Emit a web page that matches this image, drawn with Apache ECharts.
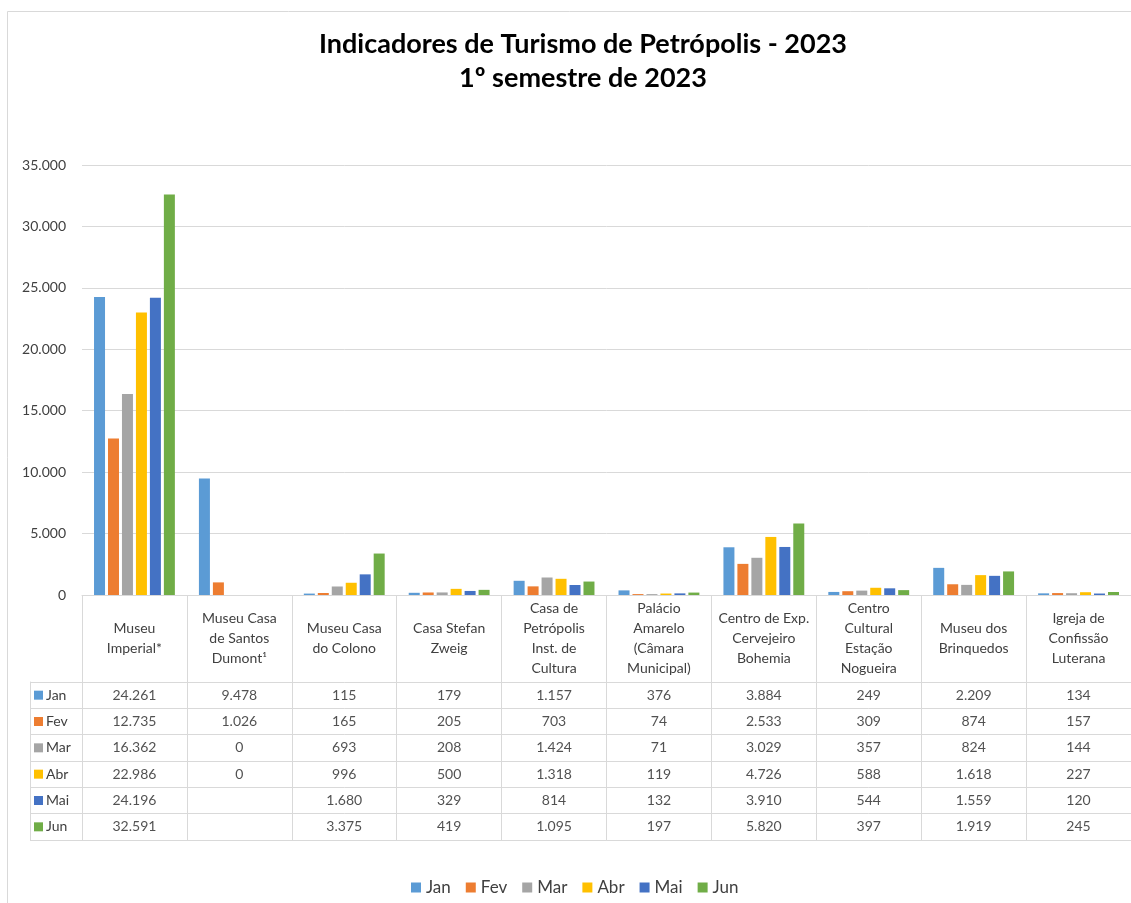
<!DOCTYPE html>
<html><head><meta charset="utf-8">
<script src="https://cdn.jsdelivr.net/npm/echarts@6/dist/echarts.min.js"></script>
<style>html,body{margin:0;padding:0;background:#fff}#c{width:1131px;height:903px}</style>
</head><body><div id="c"></div>
<script>
const categories = ['Museu\nImperial*', 'Museu Casa\nde Santos\nDumont¹', 'Museu Casa\ndo Colono', 'Casa Stefan\nZweig', 'Casa de\nPetrópolis\nInst. de\nCultura', 'Palácio\nAmarelo\n(Câmara\nMunicipal)', 'Centro de Exp.\nCervejeiro\nBohemia', 'Centro\nCultural\nEstação\nNogueira', 'Museu dos\nBrinquedos', 'Igreja de\nConfissão\nLuterana'];
const months = ['Jan', 'Fev', 'Mar', 'Abr', 'Mai', 'Jun'];
const jan = [24261, 9478, 115, 179, 1157, 376, 3884, 249, 2209, 134];
const fev = [12735, 1026, 165, 205, 703, 74, 2533, 309, 874, 157];
const mar = [16362, 0, 693, 208, 1424, 71, 3029, 357, 824, 144];
const abr = [22986, 0, 996, 500, 1318, 119, 4726, 588, 1618, 227];
const mai = [24196, null, 1680, 329, 814, 132, 3910, 544, 1559, 120];
const jun = [32591, null, 3375, 419, 1095, 197, 5820, 397, 1919, 245];
const colors = ['#5B9BD5', '#ED7D31', '#A5A5A5', '#FFC000', '#4472C4', '#70AD47'];
const seriesValues = [jan, fev, mar, abr, mai, jun];

const FONT = 'Lato';
const fmt = v => (v === null || v === undefined) ? '' : String(v).replace(/\B(?=(\d{3})+(?!\d))/g, '.');
const gridLine = '#d9d9d9';

const rich = {t: {fontFamily: FONT, fontSize: 14, color: '#404040', padding: [0, 0, 0, 3]}};
months.forEach((m, i) => { rich['c' + i] = {width: 9, height: 9, backgroundColor: colors[i]}; });

const series = [];
months.forEach((m, i) => {
  series.push({
    name: m, type: 'bar', xAxisIndex: 0, yAxisIndex: 0,
    data: seriesValues[i], barWidth: 11, barGap: '27%',
    itemStyle: {color: colors[i]}
  });
});
months.forEach((m, i) => {
  series.push({
    name: m + '_t', type: 'scatter', xAxisIndex: 1, yAxisIndex: 1,
    symbolSize: 0, silent: true,
    data: seriesValues[i].map((v, j) => v === null ? null : [j, m, v]).filter(d => d),
    label: {show: true, position: 'inside', formatter: p => fmt(p.value[2]),
      fontFamily: FONT, fontSize: 14, color: '#262626'}
  });
});

const chart = echarts.init(document.getElementById('c'), null, {renderer: 'canvas'});
chart.setOption({
  backgroundColor: '#fff',
  animation: false,
  title: {
    text: 'Indicadores de Turismo de Petrópolis - 2023\n1º semestre de 2023',
    left: 578, top: 22, textAlign: 'center',
    textStyle: {fontFamily: FONT, fontWeight: 'bold', fontSize: 27, lineHeight: 34, color: '#000'}
  },
  graphic: [{type: 'rect', shape: {x: 7.5, y: 11.5, width: 1300, height: 1000}, style: {fill: 'none', stroke: gridLine, lineWidth: 1}, silent: true}],
  legend: {
    data: months, left: 406, top: 874, itemWidth: 10, itemHeight: 10, itemGap: 15,
    icon: 'rect',
    textStyle: {fontFamily: FONT, fontSize: 17, color: '#404040'}
  },
  grid: [
    {left: 82, top: 165, width: 1060, height: 430},
    {left: 82, top: 682, width: 1060, height: 158}
  ],
  xAxis: [
    {type: 'category', gridIndex: 0, data: categories,
      axisLine: {show: true, lineStyle: {color: gridLine}},
      axisTick: {show: true, length: 87, lineStyle: {color: gridLine}},
      axisLabel: {interval: 0, margin: 43, verticalAlign: 'middle', lineHeight: 20,
        fontFamily: FONT, fontSize: 14, color: '#404040'}},
    {type: 'category', gridIndex: 1, data: categories,
      axisLine: {show: true, lineStyle: {color: gridLine}},
      axisTick: {show: false}, axisLabel: {show: false},
      splitLine: {show: true, interval: 0, lineStyle: {color: gridLine}}}
  ],
  yAxis: [
    {type: 'value', gridIndex: 0, min: 0, max: 35000, interval: 5000,
      axisLine: {show: false}, axisTick: {show: false},
      axisLabel: {formatter: v => fmt(v), margin: 16, fontFamily: FONT, fontSize: 14, color: '#404040'},
      splitLine: {lineStyle: {color: gridLine}}},
    {type: 'category', gridIndex: 1, data: months, inverse: true,
      axisLine: {show: true, lineStyle: {color: gridLine}},
      axisTick: {show: true, length: 52, lineStyle: {color: gridLine}},
      axisLabel: {align: 'left', margin: 48, formatter: (v, i) => '{c' + i + '|}{t|' + v + '}', rich: rich},
      splitLine: {show: true, interval: 0, lineStyle: {color: gridLine}}},
    {type: 'category', gridIndex: 1, data: months, inverse: true, position: 'left', offset: 52,
      axisLine: {show: true, lineStyle: {color: gridLine}},
      axisTick: {show: false}, axisLabel: {show: false}, splitLine: {show: false}}
  ],
  series: series
});
</script></body></html>
